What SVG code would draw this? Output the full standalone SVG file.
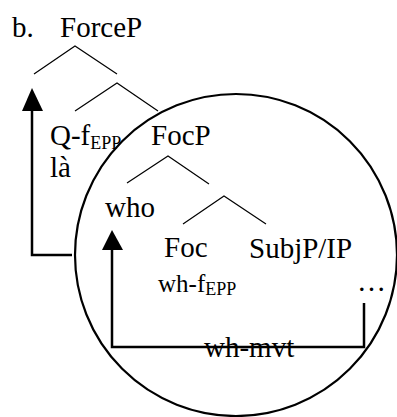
<svg xmlns="http://www.w3.org/2000/svg" width="397" height="417" viewBox="0 0 397 417">
<style>
text{font-family:"Liberation Serif","Times New Roman",serif;font-size:29px;fill:#000}
.sm{font-size:25px}
.sub{font-size:18px}
.br{stroke:#000;stroke-width:1.2;fill:none}
.ar{stroke:#000;stroke-width:2.5;fill:none}
</style>
<rect width="397" height="417" fill="#fff"/>
<g id="circle"><circle cx="236" cy="255" r="161" fill="none" stroke="#000" stroke-width="2.2"/></g>
<g id="label-b"><text x="12" y="37">b.</text></g>
<g id="ForceP"><text x="60" y="37">ForceP</text></g>
<g id="Qf"><text x="50" y="145">Q-f<tspan class="sub" dy="4">EPP</tspan></text></g>
<g id="la"><text x="50" y="177">là</text></g>
<g id="FocP"><text x="151" y="145">FocP</text></g>
<g id="who"><text x="105" y="217">who</text></g>
<g id="Foc"><text x="164" y="257">Foc</text></g>
<g id="whf"><text class="sm" x="158" y="292">wh-f<tspan class="sub" dy="3">EPP</tspan></text></g>
<g id="SubjP"><text x="249" y="258">SubjP/IP</text></g>
<g id="dots"><text x="357" y="291">…</text></g>
<g id="whmvt"><text x="204" y="357">wh-mvt</text></g>
<g id="connectors">
<polyline class="br" points="34,74 75,46 117,74"/>
<polyline class="br" points="75,111 117,83 158,111"/>
<polyline class="br" points="127,183 168,156 209,184"/>
<polyline class="br" points="183,224 224,196 266,224"/>
<polyline class="ar" points="72,255 32,255 32,108"/>
<polygon points="32,88 22,111 43,111" fill="#000"/>
<polyline class="ar" points="364,303 364,347 112,347 112,247"/>
<polygon points="112,230 102,250 123,250" fill="#000"/>
</g>
</svg>
